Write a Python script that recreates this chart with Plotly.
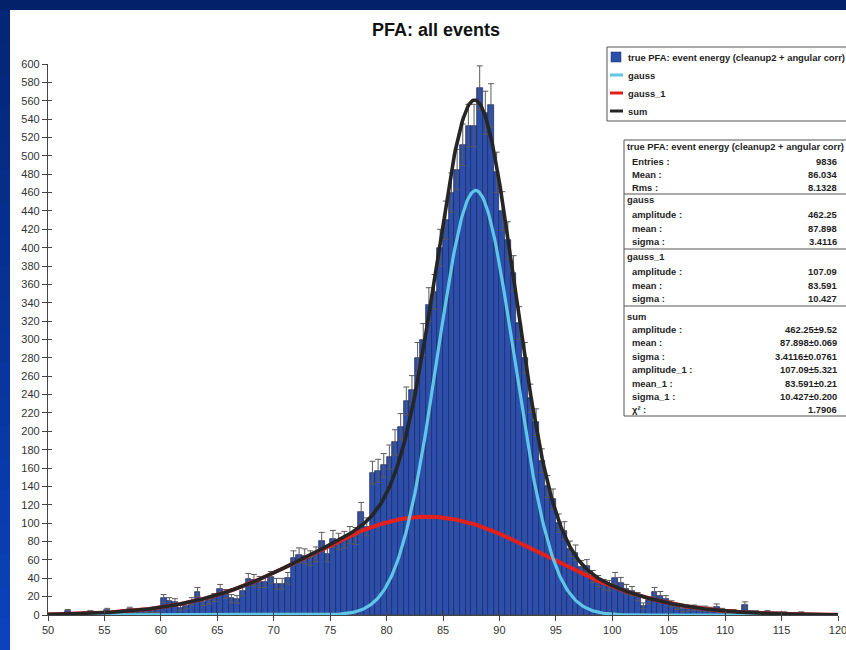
import numpy as np
import plotly.graph_objects as go

# ---------------- data ----------------
bin_start = 50.0
bin_width = 0.5
counts = [
    1, 1, 1, 4, 1, 1, 2, 3, 2, 2,            # 50 - 55
    5, 2, 3, 4, 6, 4, 4, 5, 5, 5,            # 55 - 60
    18, 15, 14, 8, 10, 15, 25, 14, 16, 19,   # 60 - 65
    28, 23, 18, 17, 26, 39, 38, 36, 36, 41,  # 65 - 70
    34, 34, 40, 62, 65, 64, 62, 66, 81, 66,  # 70 - 75
    83, 80, 82, 87, 86, 112, 96, 155, 157, 163,      # 75 - 80
    172, 188, 205, 233, 245, 280, 300, 338, 352, 400,  # 80 - 85
    430, 460, 485, 512, 533, 533, 574, 547, 555, 482,  # 85 - 90
    440, 408, 372, 318, 280, 236, 210, 168, 140, 126,  # 90 - 95
    100, 92, 72, 68, 52, 53, 42, 37, 33, 32,           # 95 - 100
    40, 35, 28, 26, 20, 10, 16, 25, 21, 17,            # 100 - 105
    12, 9, 6, 7, 8, 7, 7, 6, 9, 5,                     # 105 - 110
    4, 4, 3, 11, 3, 3, 2, 3, 2, 2,                     # 110 - 115
    2, 1, 1, 2, 0, 0, 0, 0, 0, 0,                      # 115 - 120
]

# fit results (as printed in the stats box)
gauss_amp, gauss_mean, gauss_sigma = 462.25, 87.898, 3.4116
gauss1_amp, gauss1_mean, gauss1_sigma = 107.09, 83.591, 10.427

x_ticks = list(range(50, 121, 5))
y_ticks = list(range(0, 601, 20))

title_text = "PFA: all events"
hist_name = "true PFA: event energy (cleanup2 + angular corr)"
legend_names = [hist_name, "gauss", "gauss_1", "sum"]

stats_sections = [
    (hist_name, [("Entries :", "9836"), ("Mean :", "86.034"), ("Rms :", "8.1328")]),
    ("gauss", [("amplitude :", "462.25"), ("mean :", "87.898"), ("sigma :", "3.4116")]),
    ("gauss_1", [("amplitude :", "107.09"), ("mean :", "83.591"), ("sigma :", "10.427")]),
    ("sum", [("amplitude :", "462.25±9.52"), ("mean :", "87.898±0.069"),
             ("sigma :", "3.4116±0.0761"), ("amplitude_1 :", "107.09±5.321"),
             ("mean_1 :", "83.591±0.21"), ("sigma_1 :", "10.427±0.200"),
             ("χ² :", "1.7906")]),
]

# ---------------- styles ----------------
BAR_COLOR = "#2c4fae"
CYAN = "#5ec6e6"
RED = "#e3211c"
BLACK = "#262626"
FONT = "Liberation Sans, Arial, sans-serif"
BOX_FONT = 9.4

W, H = 846, 650
ML, MR, MT, MB = 48, 8, 64, 35
PW, PH = W - ML - MR, H - MT - MB


def PX(x):
    return (x - ML) / PW


def PY(y):
    return (H - MB - y) / PH


counts_arr = np.array(counts, dtype=float)
centers = bin_start + bin_width * (np.arange(len(counts)) + 0.5)
errors = np.where(counts_arr > 0, np.sqrt(counts_arr), np.nan)

xf = np.linspace(50, 120, 701)
g0 = gauss_amp * np.exp(-0.5 * ((xf - gauss_mean) / gauss_sigma) ** 2)
g1 = gauss1_amp * np.exp(-0.5 * ((xf - gauss1_mean) / gauss1_sigma) ** 2)
gsum = g0 + g1

fig = go.Figure()
fig.add_trace(go.Bar(
    x=centers, y=counts_arr, width=bin_width, name=hist_name,
    marker=dict(color=BAR_COLOR, line=dict(color="#1c2550", width=0.7)),
    error_y=dict(type="data", array=errors, visible=True, color="#5a5a5a",
                 thickness=1, width=3),
    showlegend=False,
))
fig.add_trace(go.Scatter(x=xf, y=g1, mode="lines", name="gauss_1",
                         line=dict(color=RED, width=4), showlegend=False))
fig.add_trace(go.Scatter(x=xf, y=g0, mode="lines", name="gauss",
                         line=dict(color=CYAN, width=3.2), showlegend=False))
fig.add_trace(go.Scatter(x=xf, y=gsum, mode="lines", name="sum",
                         line=dict(color=BLACK, width=3.6), showlegend=False))
# helper trace for the inner half of the crossing tick marks
fig.add_trace(go.Scatter(x=[None], y=[None], xaxis="x2", yaxis="y2",
                         showlegend=False, hoverinfo="skip"))

shapes = []
annotations = []

# page background: white panel on dark blue slide
shapes.append(dict(type="rect", xref="paper", yref="paper", layer="below",
                   x0=PX(0), x1=PX(W), y0=PY(H), y1=PY(0),
                   fillcolor="#03216a", line=dict(width=0)))
nseg = 20
for i in range(nseg):
    t = i / (nseg - 1)
    r = int(4 + 8 * t)
    g = int(38 + 28 * t)
    b = int(118 + 70 * t)
    y0 = 10 + (H - 10) * i / nseg
    y1 = 10 + (H - 10) * (i + 1) / nseg
    shapes.append(dict(type="rect", xref="paper", yref="paper", layer="below",
                       x0=PX(0), x1=PX(10), y0=PY(y1), y1=PY(y0),
                       fillcolor=f"rgb({r},{g},{b})", line=dict(width=0)))
shapes.append(dict(type="rect", xref="paper", yref="paper", layer="below",
                   x0=PX(10), x1=PX(W + 5), y0=PY(H + 5), y1=PY(10),
                   fillcolor="white", line=dict(width=0)))

# ---- legend box ----
shapes.append(dict(type="rect", xref="paper", yref="paper", layer="above",
                   x0=PX(607), x1=PX(W + 5), y0=PY(121), y1=PY(47),
                   fillcolor="white", line=dict(color="#555", width=1)))
leg_y = [57, 75, 93, 111]
shapes.append(dict(type="rect", xref="paper", yref="paper", layer="above",
                   x0=PX(611), x1=PX(621), y0=PY(62), y1=PY(52),
                   fillcolor=BAR_COLOR, line=dict(color="#1c2550", width=0.5)))
for yy, col in zip(leg_y[1:], [CYAN, RED, BLACK]):
    shapes.append(dict(type="line", xref="paper", yref="paper", layer="above",
                       x0=PX(610), x1=PX(623), y0=PY(yy), y1=PY(yy),
                       line=dict(color=col, width=3)))
for yy, name in zip(leg_y, legend_names):
    annotations.append(dict(xref="paper", yref="paper", x=PX(626), y=PY(yy),
                            xanchor="left", yanchor="middle", showarrow=False,
                            text=f"<b>{name}</b>",
                            font=dict(family=FONT, size=BOX_FONT, color="#1e1e1e")))

# ---- stats box ----
shapes.append(dict(type="rect", xref="paper", yref="paper", layer="above",
                   x0=PX(624), x1=PX(W + 5), y0=PY(416), y1=PY(140),
                   fillcolor="white", line=dict(color="#555", width=1)))
header_y = [146, 200, 256, 316]
row_y = [[161, 174, 187], [214, 228, 241], [271, 285, 298],
         [329, 342, 356, 369, 383, 396, 409]]
sep_y = [194, 249, 306]
for sy in sep_y:
    shapes.append(dict(type="line", xref="paper", yref="paper", layer="above",
                       x0=PX(624), x1=PX(W + 5), y0=PY(sy), y1=PY(sy),
                       line=dict(color="#555", width=1)))
for (head, rows), hy, rys in zip(stats_sections, header_y, row_y):
    annotations.append(dict(xref="paper", yref="paper", x=PX(624.5), y=PY(hy),
                            xanchor="left", yanchor="middle", showarrow=False,
                            text=f"<b>{head}</b>",
                            font=dict(family=FONT, size=BOX_FONT, color="#1e1e1e")))
    for (lab, val), ry in zip(rows, rys):
        annotations.append(dict(xref="paper", yref="paper", x=PX(630), y=PY(ry),
                                xanchor="left", yanchor="middle", showarrow=False,
                                text=f"<b>{lab}</b>",
                                font=dict(family=FONT, size=BOX_FONT, color="#1e1e1e")))
        annotations.append(dict(xref="paper", yref="paper", x=PX(839), y=PY(ry),
                                xanchor="right", yanchor="middle", showarrow=False,
                                text=f"<b>{val}</b>",
                                font=dict(family=FONT, size=BOX_FONT, color="#1e1e1e")))

axis_common = dict(showgrid=False, zeroline=False, showline=True,
                   linecolor="#444", linewidth=1.3, ticks="outside", ticklen=5,
                   tickwidth=1.3, tickcolor="#444", ticklabeloverflow="allow",
                   automargin=False,
                   tickfont=dict(family=FONT, size=11, color="#333"))

fig.update_layout(
    width=W, height=H,
    margin=dict(l=ML, r=MR, t=MT, b=MB, autoexpand=False),
    paper_bgcolor="#03216a", plot_bgcolor="white",
    bargap=0, showlegend=False,
    title=dict(text=f"<b>{title_text}</b>", xref="paper", x=PX(436),
               xanchor="center", yref="container", y=1 - 30 / H,
               yanchor="middle", automargin=False,
               font=dict(family=FONT, size=18, color="#111")),
    xaxis=dict(range=[50, 120], tickvals=x_ticks, **axis_common),
    yaxis=dict(range=[0, 600], tickvals=y_ticks, **axis_common),
    xaxis2=dict(overlaying="x", anchor="y", side="bottom", range=[50, 120],
                tickvals=x_ticks, ticks="inside", ticklen=4, tickwidth=1.3,
                tickcolor="#444", showticklabels=False, showline=False,
                showgrid=False, zeroline=False, automargin=False),
    yaxis2=dict(overlaying="y", anchor="x", side="left", range=[0, 600],
                tickvals=y_ticks, ticks="inside", ticklen=4, tickwidth=1.3,
                tickcolor="#444", showticklabels=False, showline=False,
                showgrid=False, zeroline=False, automargin=False),
    shapes=shapes,
    annotations=annotations,
)

fig.write_html("out.html")
